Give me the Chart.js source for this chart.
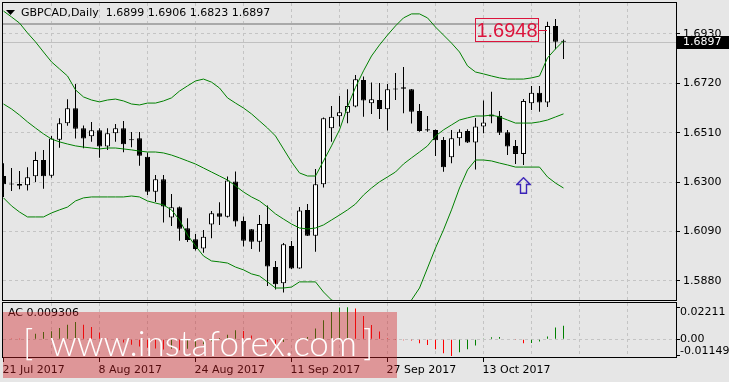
<!DOCTYPE html>
<html>
<head>
<meta charset="utf-8">
<script src="https://cdn.jsdelivr.net/npm/chart.js@4.4.1/dist/chart.umd.min.js"></script>
<style>
  html, body { margin: 0; padding: 0; background: #e6e6e6; }
  #wrap { position: relative; width: 729px; height: 382px; overflow: hidden; background: #e6e6e6; }
  #main { position: absolute; left: 0; top: 0; }
  #ac { position: absolute; left: 0; top: 301px; }
  #wm { position: absolute; left: 3px; top: 312px; width: 394px; height: 66px; background: rgba(210, 30, 35, 0.4); }
  #wm span { position: absolute; color: #fff; font-family: Lato, 'Open Sans', sans-serif; font-weight: 300; font-size: 35px; line-height: 35px; white-space: nowrap; }
</style>
</head>
<body>
<div id="wrap">
  <canvas id="main" width="729" height="301" style="width:729px;height:301px"></canvas>
  <canvas id="ac" width="729" height="81" style="width:729px;height:81px"></canvas>
  <div id="wm">
    <span style="left:20px;top:12px">[</span>
    <span style="left:47px;top:13px">www.instaforex.com</span>
    <span style="left:360px;top:12px">]</span>
  </div>
</div>
<script>
// GBPCAD daily, 21 Jul 2017 .. 27 Oct 2017 (one entry per bar)
const symbol = 'GBPCAD,Daily';
const tickDates = ['21 Jul 2017', '8 Aug 2017', '24 Aug 2017', '11 Sep 2017', '27 Sep 2017', '13 Oct 2017'];
const tickBars = [0, 12, 24, 36, 48, 60];
const gridBars = [0, 6, 12, 18, 24, 30, 36, 42, 48, 54, 60, 66, 72, 78];
const priceTicks = [1.5880, 1.6090, 1.6300, 1.6510, 1.6720, 1.6930];
const acTicks = [0.02211, 0, -0.01149];

const opens = [1.6326,1.6291,1.6292,1.6287,1.6325,1.6394,1.6327,1.6480,1.6550,1.6614,
  1.6529,1.6495,1.6520,1.6451,1.6508,1.6529,1.6481,1.6486,1.6408,1.6259,
  1.6312,1.6150,1.6193,1.6104,1.6057,1.6018,1.6120,1.6168,1.6153,1.6303,
  1.6135,1.6100,1.6047,1.6122,1.5939,1.5870,1.6028,1.5933,1.6182,1.6072,
  1.6291,1.6529,1.6580,1.6595,1.6621,1.6734,1.6635,1.6649,1.6610,1.6694,
  1.6703,1.6695,1.6602,1.6525,1.6522,1.6479,1.6406,1.6486,1.6517,1.6468,
  1.6536,1.6587,1.6582,1.6512,1.6454,1.6420,1.6635,1.6680,1.6638,1.6964,
  1.6899];
const highs = [1.6380,1.6360,1.6347,1.6363,1.6429,1.6437,1.6496,1.6571,1.6652,1.6717,
  1.6541,1.6556,1.6529,1.6529,1.6547,1.6560,1.6513,1.6513,1.6426,1.6330,
  1.6330,1.6250,1.6196,1.6146,1.6080,1.6097,1.6177,1.6214,1.6324,1.6345,
  1.6154,1.6101,1.6160,1.6201,1.5965,1.6041,1.6050,1.6194,1.6207,1.6356,
  1.6575,1.6624,1.6666,1.6695,1.6755,1.6749,1.6723,1.6721,1.6717,1.6764,
  1.6789,1.6696,1.6632,1.6581,1.6524,1.6492,1.6522,1.6525,1.6525,1.6573,
  1.6647,1.6684,1.6602,1.6522,1.6479,1.6653,1.6709,1.6709,1.6982,1.6993,
  1.6906];
const lows = [1.6237,1.6262,1.6270,1.6264,1.6301,1.6272,1.6319,1.6446,1.6540,1.6485,
  1.6444,1.6472,1.6404,1.6437,1.6472,1.6427,1.6448,1.6370,1.6245,1.6216,
  1.6128,1.6114,1.6051,1.6046,1.6009,1.6000,1.6061,1.6118,1.6150,1.6111,
  1.6026,1.6016,1.6004,1.5859,1.5844,1.5831,1.5931,1.5932,1.6071,1.6004,
  1.6277,1.6472,1.6536,1.6550,1.6618,1.6578,1.6590,1.6568,1.6519,1.6649,
  1.6593,1.6549,1.6514,1.6514,1.6411,1.6344,1.6380,1.6455,1.6466,1.6354,
  1.6508,1.6550,1.6500,1.6415,1.6377,1.6373,1.6607,1.6599,1.6619,1.6865,
  1.6823];
const closes = [1.6291,1.6290,1.6285,1.6321,1.6394,1.6325,1.6485,1.6550,1.6614,1.6527,
  1.6485,1.6520,1.6451,1.6508,1.6529,1.6461,1.6478,1.6412,1.6259,1.6312,
  1.6196,1.6193,1.6102,1.6054,1.6016,1.6068,1.6168,1.6153,1.6307,1.6133,
  1.6051,1.6047,1.6122,1.5941,1.5866,1.6036,1.5933,1.6179,1.6072,1.6291,
  1.6571,1.6578,1.6597,1.6624,1.6737,1.6647,1.6652,1.6611,1.6695,1.6694,
  1.6697,1.6599,1.6517,1.6519,1.6478,1.6363,1.6486,1.6514,1.6468,1.6536,
  1.6553,1.6579,1.6510,1.6451,1.6420,1.6645,1.6680,1.6638,1.6964,1.6897,
  1.6897];

// Bollinger bands
const bbUpper = [1.7027,1.7002,1.6976,1.6934,1.6896,1.6853,1.6811,1.6781,1.6751,1.6692,
  1.6662,1.6649,1.6641,1.6649,1.6653,1.6645,1.6632,1.6628,1.6636,1.6636,
  1.6645,1.6658,1.6687,1.6709,1.6730,1.6738,1.6725,1.6700,1.6658,1.6636,
  1.6615,1.6590,1.6560,1.6530,1.6496,1.6441,1.6386,1.6339,1.6326,1.6326,
  1.6390,1.6454,1.6522,1.6620,1.6703,1.6773,1.6836,1.6883,1.6925,1.6964,
  1.6998,1.7015,1.7015,1.6998,1.6959,1.6925,1.6891,1.6853,1.6794,1.6768,
  1.6760,1.6751,1.6743,1.6738,1.6738,1.6738,1.6743,1.6751,1.6828,1.6866,
  1.6900];
const bbMiddle = [1.6632,1.6611,1.6585,1.6556,1.6530,1.6505,1.6483,1.6471,1.6462,1.6454,
  1.6449,1.6445,1.6441,1.6445,1.6445,1.6441,1.6437,1.6432,1.6428,1.6428,
  1.6424,1.6415,1.6403,1.6390,1.6377,1.6360,1.6343,1.6326,1.6309,1.6284,
  1.6258,1.6237,1.6220,1.6194,1.6165,1.6143,1.6122,1.6105,1.6101,1.6105,
  1.6118,1.6139,1.6160,1.6182,1.6207,1.6245,1.6275,1.6301,1.6322,1.6343,
  1.6377,1.6403,1.6428,1.6454,1.6496,1.6522,1.6543,1.6564,1.6573,1.6581,
  1.6581,1.6585,1.6577,1.6564,1.6551,1.6551,1.6551,1.6556,1.6564,1.6577,
  1.6590];
const bbLower = [1.6233,1.6199,1.6173,1.6152,1.6152,1.6152,1.6169,1.6182,1.6194,1.6220,
  1.6233,1.6237,1.6237,1.6237,1.6237,1.6237,1.6241,1.6237,1.6220,1.6211,
  1.6203,1.6182,1.6139,1.6075,1.6029,1.5986,1.5965,1.5961,1.5956,1.5939,
  1.5927,1.5910,1.5901,1.5876,1.5850,1.5850,1.5854,1.5876,1.5876,1.5876,
  1.5833,1.5799,1.5786,1.5748,1.5714,1.5714,1.5710,1.5714,1.5718,1.5727,
  1.5757,1.5799,1.5850,1.5935,1.6020,1.6097,1.6182,1.6275,1.6352,1.6394,
  1.6394,1.6390,1.6381,1.6373,1.6364,1.6364,1.6364,1.6364,1.6322,1.6296,
  1.6275];

// Accelerator oscillator
const acValues = [0.0004,0.0002,0.0001,0.0020,0.0039,0.0050,0.0055,0.0078,0.0101,0.0119,
  0.0101,0.0085,0.0046,0.0005,-0.0007,-0.0022,-0.0038,-0.0050,-0.0058,-0.0064,
  -0.0070,-0.0066,-0.0076,-0.0065,-0.0052,-0.0035,-0.0013,0.0009,0.0032,0.0062,
  0.0058,0.0027,0.0009,-0.0017,-0.0035,-0.0018,-0.0004,0.0008,0.0016,0.0074,
  0.0131,0.0188,0.0219,0.0221,0.0212,0.0161,0.0099,0.0053,0.0007,-0.0002,
  -0.0006,-0.0009,-0.0028,-0.0039,-0.0069,-0.0097,-0.0115,-0.0090,-0.0069,-0.0043,
  0.0002,0.0014,0.0015,0.0004,-0.0005,-0.0028,-0.0025,-0.0015,0.0019,0.0081,
  0.009306];

// chart objects
const levelPrice = 1.6972;
const noteBar = 68;
const notePrice = 1.6948;
const arrowBar = 65;
const arrowPrice = 1.6286;

const X_MIN = -0.0625, X_MAX = X_MIN + 673 / 8;
const Y_MIN = 1.5799, Y_MAX = 1.70613;
const AC_MIN = -0.01221, AC_MAX = 0.02503;
const GRID = '#c4c4c4';
const FONT = '"DejaVu Sans", sans-serif';

Chart.defaults.font.family = FONT;
Chart.defaults.font.size = 11;
Chart.defaults.color = '#000';

function makeArrow() {
  const c = document.createElement('canvas');
  c.width = 15; c.height = 17;
  const g = c.getContext('2d');
  g.beginPath();
  g.moveTo(7.5, 0.8); g.lineTo(14.2, 7.5); g.lineTo(10.5, 7.5); g.lineTo(10.5, 16.2);
  g.lineTo(4.5, 16.2); g.lineTo(4.5, 7.5); g.lineTo(0.8, 7.5); g.closePath();
  g.strokeStyle = '#3a22b8';
  g.lineWidth = 1.4;
  g.stroke();
  return c;
}

// keep the plot box where it is, no room reserved for half labels
function fixBox(w, h) {
  return s => {
    if (w !== null) s.width = w;
    if (h !== null) s.height = h;
    s.paddingTop = 0; s.paddingBottom = 0; s.paddingLeft = 0; s.paddingRight = 0;
  };
}

const framePlugin = {
  id: 'frame',
  afterDraw(chart) {
    const { ctx, chartArea: a } = chart;
    ctx.save();
    ctx.strokeStyle = '#000';
    ctx.lineWidth = 1;
    ctx.strokeRect(a.left - 0.5, a.top - 0.5, a.right - a.left + 1, a.bottom - a.top + 1);
    ctx.restore();
  }
};

const last = closes.length - 1;

const mainOverlay = {
  id: 'mainOverlay',
  beforeDatasetsDraw(chart) {
    const { ctx, chartArea: a, scales: { x, y } } = chart;
    ctx.save();
    // horizontal level
    const ly = Math.round(y.getPixelForValue(levelPrice));
    const boxRight = Math.round(x.getPixelForValue(noteBar)) - 10;
    ctx.fillStyle = '#a9a9a9';
    ctx.fillRect(a.left, ly - 1, boxRight - a.left, 2);
    // bid line
    const by = Math.round(y.getPixelForValue(closes[last])) + 0.5;
    ctx.strokeStyle = '#c0c0c0';
    ctx.lineWidth = 1;
    ctx.beginPath(); ctx.moveTo(a.left, by); ctx.lineTo(a.right, by); ctx.stroke();
    ctx.restore();
  },
  afterDatasetsDraw(chart) {
    const { ctx, scales: { x, y } } = chart;
    ctx.save();
    const bx = Math.round(x.getPixelForValue(noteBar));
    const ny = Math.round(y.getPixelForValue(notePrice));
    const right = bx - 10, left = right - 63;
    ctx.strokeStyle = '#dc143c';
    ctx.lineWidth = 1;
    ctx.strokeRect(left + 0.5, ny - 12 + 0.5, 63, 23);
    ctx.beginPath(); ctx.moveTo(right, ny + 0.5); ctx.lineTo(bx - 1, ny + 0.5); ctx.stroke();
    ctx.fillStyle = '#dc143c';
    ctx.font = '20px "Liberation Sans", sans-serif';
    ctx.textAlign = 'center';
    ctx.textBaseline = 'middle';
    ctx.fillText(notePrice.toFixed(4), left + 32, ny + 1);
    ctx.restore();
  },
  afterDraw(chart) {
    const { ctx, chartArea: a, scales: { y } } = chart;
    ctx.save();
    // current price tag
    const by = Math.round(y.getPixelForValue(closes[last]));
    ctx.fillStyle = '#000';
    ctx.fillRect(a.right, by - 6, chart.width - a.right, 13);
    ctx.fillStyle = '#fff';
    ctx.font = '11px ' + FONT;
    ctx.textBaseline = 'middle';
    ctx.fillText(closes[last].toFixed(4), a.right + 7, by + 0.5);
    // title
    ctx.fillStyle = '#000';
    ctx.beginPath(); ctx.moveTo(6, 10); ctx.lineTo(15, 10); ctx.lineTo(10.5, 15); ctx.closePath(); ctx.fill();
    const t = symbol + '  ' + [opens[last], highs[last], lows[last], closes[last]].map(v => v.toFixed(4)).join(' ');
    ctx.fillText(t, 21, 13);
    ctx.restore();
  }
};

const acOverlay = {
  id: 'acOverlay',
  afterDraw(chart) {
    const { ctx, chartArea: a, scales: { y } } = chart;
    ctx.save();
    ctx.fillStyle = '#000';
    ctx.font = '11px ' + FONT;
    ctx.textAlign = 'left';
    ctx.textBaseline = 'middle';
    ctx.fillText('AC ' + acValues[last].toFixed(6), a.left + 5, a.top + 10);
    acTicks.forEach(v => {
      const py = y.getPixelForValue(v);
      ctx.textBaseline = v > 0 ? 'top' : (v < 0 ? 'bottom' : 'middle');
      ctx.fillText(v === 0 ? '0.00' : v.toFixed(5), a.right + 4, py + (v > 0 ? -1 : (v < 0 ? 1 : 0)));
    });
    ctx.restore();
  }
};

const xGridColor = ctx => (ctx.tick && ctx.tick.value === 0 ? 'rgba(0,0,0,0)' : GRID);

new Chart(document.getElementById('main'), {
  type: 'bar',
  data: {
    datasets: [
      { type: 'scatter', data: [{ x: arrowBar, y: arrowPrice }], pointStyle: makeArrow(), pointRadius: 8, order: -3 },
      { type: 'line', data: bbUpper.map((v, i) => ({ x: i, y: v })), borderColor: '#008000', borderWidth: 1, pointRadius: 0, order: -2 },
      { type: 'line', data: bbMiddle.map((v, i) => ({ x: i, y: v })), borderColor: '#008000', borderWidth: 1, pointRadius: 0, order: -2 },
      { type: 'line', data: bbLower.map((v, i) => ({ x: i, y: v })), borderColor: '#008000', borderWidth: 1, pointRadius: 0, order: -2 },
      {
        data: opens.map((o, i) => ({ x: i, y: [Math.min(o, closes[i]), Math.max(o, closes[i])] })),
        barThickness: 5, minBarLength: 1, grouped: false, borderSkipped: false, inflateAmount: 0,
        backgroundColor: ctx => (closes[ctx.dataIndex] > opens[ctx.dataIndex] ? '#ffffff' : '#000000'),
        borderColor: '#000', borderWidth: 1, clip: 0, order: 0
      },
      {
        data: lows.map((l, i) => ({ x: i, y: [l, highs[i]] })),
        barThickness: 1, grouped: false, inflateAmount: 0, backgroundColor: '#000', borderWidth: 0, clip: 0, order: 1
      }
    ]
  },
  options: {
    responsive: false,
    animation: false,
    devicePixelRatio: 1,
    layout: { autoPadding: false, padding: { left: 3, top: 3, right: 0, bottom: 1 } },
    plugins: { legend: { display: false }, tooltip: { enabled: false } },
    scales: {
      x: {
        type: 'linear', min: X_MIN, max: X_MAX, offset: false,
        afterBuildTicks: s => { s.ticks = gridBars.map(v => ({ value: v })); },
        afterFit: fixBox(null, 0),
        ticks: { display: false },
        grid: { color: xGridColor, drawTicks: false, offset: false },
        border: { display: false, dash: [3, 3] }
      },
      y: {
        type: 'linear', position: 'right', min: Y_MIN, max: Y_MAX, beginAtZero: false,
        afterBuildTicks: s => { s.ticks = priceTicks.map(v => ({ value: v })); },
        afterFit: fixBox(53, null),
        ticks: { callback: v => v.toFixed(4), padding: 3 },
        grid: { color: GRID, tickColor: '#000', tickLength: 4, tickBorderDash: [] },
        border: { display: false, dash: [3, 3] }
      }
    }
  },
  plugins: [mainOverlay, framePlugin]
});

new Chart(document.getElementById('ac'), {
  type: 'bar',
  data: {
    datasets: [{
      data: acValues.map((v, i) => ({ x: i, y: v })),
      barThickness: 1, grouped: false, inflateAmount: 0, borderWidth: 0, clip: 0,
      backgroundColor: ctx => {
        const i = ctx.dataIndex;
        return i > 0 && acValues[i] <= acValues[i - 1] ? '#ff0000' : '#008000';
      }
    }]
  },
  options: {
    responsive: false,
    animation: false,
    devicePixelRatio: 1,
    layout: { autoPadding: false, padding: { left: 3, top: 2, right: 0, bottom: 0 } },
    plugins: { legend: { display: false }, tooltip: { enabled: false } },
    scales: {
      x: {
        type: 'linear', min: X_MIN, max: X_MAX, offset: false,
        afterBuildTicks: s => { s.ticks = gridBars.map(v => ({ value: v })); },
        afterFit: fixBox(null, 25),
        ticks: {
          callback: v => { const k = tickBars.indexOf(v); return k < 0 ? '' : tickDates[k]; },
          align: 'start', labelOffset: -1, padding: 2, maxRotation: 0, minRotation: 0, autoSkip: false
        },
        grid: {
          color: xGridColor, offset: false, tickLength: 5, tickBorderDash: [],
          tickColor: ctx => (ctx.tick && tickBars.includes(ctx.tick.value) ? '#000' : 'rgba(0,0,0,0)')
        },
        border: { display: false, dash: [3, 3] }
      },
      y: {
        type: 'linear', position: 'right', min: AC_MIN, max: AC_MAX, beginAtZero: false,
        afterBuildTicks: s => { s.ticks = acTicks.map(v => ({ value: v })); },
        afterFit: fixBox(53, null),
        ticks: { display: false },
        grid: {
          color: ctx => (ctx.tick && ctx.tick.value === 0 ? GRID : 'rgba(0,0,0,0)'),
          tickColor: '#000', tickLength: 4, tickBorderDash: []
        },
        border: { display: false, dash: [3, 3] }
      }
    }
  },
  plugins: [acOverlay, framePlugin]
});
</script>
</body>
</html>
